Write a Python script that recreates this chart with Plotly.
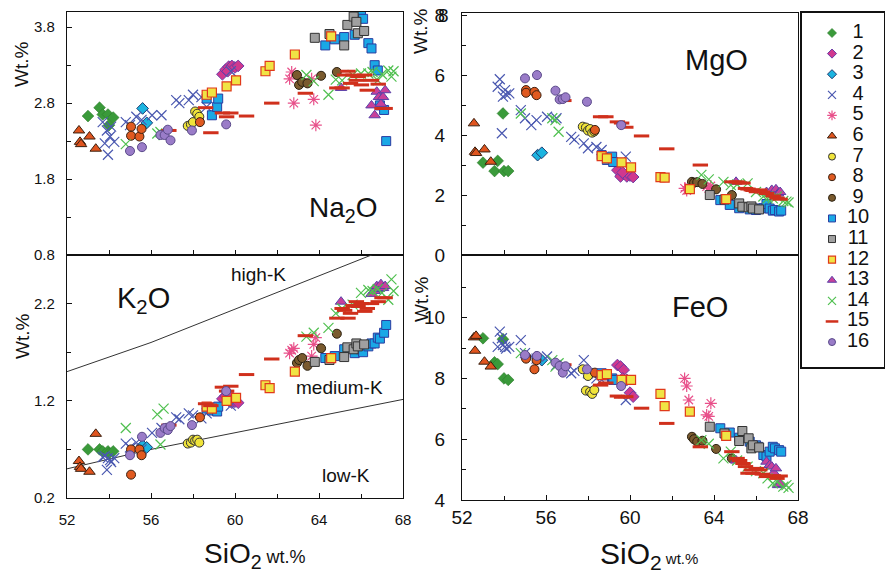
import plotly.graph_objects as go

# ---------------- data ----------------
S01_SIO2 = [53.0, 53.55, 53.7, 53.95, 54.0, 54.2]
S01_NA2O = [2.63, 2.74, 2.65, 2.65, 2.51, 2.61]
S01_K2O = [0.70, 0.70, 0.68, 0.68, 0.66, 0.68]
S01_MGO = [3.08, 2.80, 3.14, 4.72, 2.80, 2.80]
S01_FEO = [9.32, 8.53, 8.47, 9.29, 8.00, 7.95]

S02_SIO2 = [59.4, 59.55, 59.7, 59.85, 60.0, 60.15, 59.65]
S02_NA2O = [3.18, 3.24, 3.28, 3.29, 3.27, 3.29, 3.22]
S02_K2O = [1.22, 1.25, 1.20, 1.18, 1.19, 1.18, 1.28]
S02_MGO = [2.83, 2.62, 2.70, 2.62, 2.65, 2.60, 2.75]
S02_FEO = [8.44, 8.39, 8.28, 7.95, 7.53, 7.40, 8.00]

S03_SIO2 = [55.6, 55.8]
S03_NA2O = [2.73, 2.54]
S03_K2O = [0.74, 0.72]
S03_MGO = [3.33, 3.41]
S03_FEO = [8.66, 8.60]

S04_SIO2 = [53.7, 53.8, 53.9, 53.95, 54.05, 54.1, 54.25, 54.8, 55.0, 55.3, 55.55,
            56.05, 56.5, 57.2, 57.35, 57.8, 58.0, 58.4, 58.65, 59.8]
S04_NA2O = [2.55, 2.27, 2.44, 2.12, 2.36, 2.49, 2.29, 2.55, 2.51, 2.62, 2.58,
            2.64, 2.64, 2.84, 2.80, 2.84, 2.91, 2.88, 2.75, 3.22]
S04_K2O = [0.62, 0.63, 0.49, 0.61, 0.59, 0.57, 0.61, 0.76, 0.72, 0.77, 0.70,
           0.87, 0.92, 1.03, 1.01, 1.07, 1.05, 1.02, 1.07, 1.15]
S04_MGO = [5.61, 5.86, 4.06, 5.28, 5.50, 5.35, 5.39, 4.83, 4.56, 4.33, 4.50,
           4.61, 4.56, 3.94, 3.85, 3.72, 3.56, 3.60, 3.50, 3.28]
S04_FEO = [9.04, 9.54, 9.32, 9.10, 9.04, 8.98, 9.04, 9.26, 8.83, 8.72, 8.65,
           8.72, 8.44, 8.17, 8.25, 8.60, 8.17, 8.00, 7.95, 7.29]

S05_SIO2 = [62.6, 62.7, 62.8, 63.65, 63.75, 63.85]
S05_NA2O = [3.12, 3.21, 2.80, 3.12, 2.85, 2.51]
S05_K2O = [1.69, 1.72, 1.74, 1.66, 1.78, 1.85]
S05_MGO = [2.22, 2.15, 2.28, 2.28, 2.22, 2.30]
S05_FEO = [8.00, 7.75, 7.29, 6.80, 6.75, 7.18]

S06_SIO2 = [52.57, 52.62, 52.67, 53.07, 53.37]
S06_NA2O = [2.44, 2.29, 2.26, 2.36, 2.20]
S06_K2O = [0.58, 0.52, 0.50, 0.47, 0.86]
S06_MGO = [4.39, 3.44, 3.40, 3.52, 3.11]
S06_FEO = [9.35, 8.91, 9.40, 8.55, 8.39]

S07_SIO2 = [57.75, 57.9, 58.0, 58.1, 58.2, 58.3]
S07_NA2O = [2.50, 2.52, 2.55, 2.69, 2.66, 2.62]
S07_K2O = [0.76, 0.77, 0.80, 0.79, 0.80, 0.77]
S07_MGO = [4.28, 4.25, 4.15, 4.20, 4.08, 4.12]
S07_FEO = [8.30, 7.60, 8.08, 7.56, 7.49, 7.62]

S08_SIO2 = [55.05, 55.05, 55.45, 55.55, 58.33]
S08_NA2O = [2.49, 2.37, 2.36, 2.46, 2.55]
S08_K2O = [0.70, 0.44, 0.70, 0.64, 1.03]
S08_MGO = [5.50, 5.41, 5.44, 5.33, 4.17]
S08_FEO = [8.72, 8.65, 8.30, 8.60, 8.19]

S09_SIO2 = [62.95, 63.05, 63.2, 63.45, 64.1, 64.85]
S09_NA2O = [3.17, 3.04, 3.08, 3.06, 3.16, 3.21]
S09_K2O = [1.59, 1.62, 1.64, 1.56, 1.74, 1.89]
S09_MGO = [2.44, 2.41, 2.43, 2.37, 2.19, 2.00]
S09_FEO = [6.08, 6.00, 5.92, 5.95, 5.68, 5.37]

S10_SIO2 = [58.65, 58.9, 59.15, 59.2, 64.3, 64.75, 65.2, 65.7, 66.0, 66.1,
            66.35, 66.5, 66.65, 66.8, 66.9, 67.1, 67.2]
S10_NA2O = [2.86, 2.64, 2.75, 2.86, 3.56, 3.64, 3.67, 3.70, 3.96, 3.91,
            3.59, 3.52, 3.30, 3.23, 2.77, 2.71, 2.30]
S10_K2O = [1.12, 1.10, 1.09, 1.14, 1.64, 1.66, 1.73, 1.69, 1.73, 1.70,
           1.76, 1.79, 1.79, 1.85, 1.84, 1.90, 1.98]
S10_MGO = [3.33, 3.17, 3.28, 3.10, 1.83, 1.67, 1.56, 1.52, 1.50, 1.55,
           1.56, 1.70, 1.55, 1.48, 1.50, 1.45, 1.48]
S10_FEO = [8.17, 8.10, 8.00, 7.95, 6.36, 6.22, 6.05, 5.92, 5.80, 5.75,
           5.48, 5.43, 5.59, 5.75, 5.70, 5.64, 5.59]

S11_SIO2 = [63.8, 64.5, 65.2, 65.35, 65.65, 65.78, 65.85, 66.15]
S11_NA2O = [3.66, 3.71, 3.56, 3.83, 3.94, 3.87, 3.72, 3.75]
S11_K2O = [1.60, 1.62, 1.65, 1.75, 1.73, 1.79, 1.76, 1.78]
S11_MGO = [2.00, 1.85, 1.72, 1.61, 1.59, 1.62, 1.55, 1.52]
S11_FEO = [6.41, 6.19, 5.94, 6.27, 6.03, 5.70, 5.80, 5.73]

S12_SIO2 = [58.65, 58.9, 59.6, 60.05, 61.45, 61.65, 62.85, 64.58]
S12_NA2O = [2.91, 2.94, 3.02, 3.10, 3.22, 3.29, 3.44, 3.68]
S12_K2O = [1.14, 1.12, 1.20, 1.23, 1.36, 1.33, 1.50, 1.64]
S12_MGO = [3.30, 3.22, 3.09, 2.92, 2.60, 2.58, 2.20, 1.86]
S12_FEO = [8.11, 8.14, 7.95, 7.95, 7.49, 7.09, 6.91, 6.11]

S13_SIO2 = [65.05, 66.5, 66.65, 66.75, 66.85, 66.95, 67.05, 67.15]
S13_NA2O = [3.00, 2.77, 2.64, 2.95, 2.88, 2.79, 2.88, 2.97]
S13_K2O = [2.22, 2.30, 2.33, 2.38, 2.35, 2.40, 2.36, 2.38]
S13_MGO = [2.44, 2.10, 2.05, 2.17, 2.00, 2.19, 2.05, 2.10]
S13_FEO = [5.30, 5.26, 5.15, 5.10, 4.90, 5.04, 4.49, 4.53]

S14_SIO2 = [54.8, 56.3, 56.45, 56.6, 63.4, 63.75, 64.45, 64.8, 65.1, 65.6,
            66.0, 66.35, 66.55, 66.8, 67.0, 67.3, 67.45, 67.55]
S14_NA2O = [2.26, 2.40, 2.42, 2.38, 3.17, 3.09, 2.91, 3.11, 3.10, 3.17,
            3.19, 3.19, 3.21, 3.10, 3.18, 3.23, 3.15, 3.22]
S14_K2O = [0.92, 1.06, 0.75, 1.12, 1.86, 1.90, 1.95, 2.10, 2.15, 2.19,
           2.31, 2.34, 2.33, 2.35, 2.31, 2.24, 2.45, 2.33]
S14_MGO = [4.72, 4.56, 4.50, 4.11, 2.67, 2.52, 2.44, 2.33, 2.35, 2.39,
           2.10, 1.95, 1.89, 1.89, 1.95, 1.80, 1.78, 1.75]
S14_FEO = [8.83, 8.60, 8.39, 8.50, 5.97, 5.85, 5.37, 5.59, 5.30, 5.10,
           4.95, 4.88, 4.71, 4.55, 4.60, 4.44, 4.49, 4.40]

S15_SIO2 = [56.85, 58.6, 58.85, 59.4, 59.6, 59.8, 60.55, 61.75, 63.35, 64.85,
            65.1, 65.22, 65.38, 65.5, 65.62, 65.78, 65.86, 66.02, 66.18, 66.3,
            66.5, 66.82, 67.0, 67.15]
S15_NA2O = [2.44, 2.74, 2.41, 2.67, 2.62, 2.67, 2.63, 2.80, 2.93, 3.00,
            3.00, 3.17, 3.22, 3.06, 3.17, 3.10, 3.15, 3.04, 3.17, 2.97,
            3.10, 3.05, 2.73, 2.73]
S15_K2O = [0.95, 1.17, 1.15, 1.34, 1.30, 1.35, 1.47, 1.63, 1.87, 2.05,
           2.15, 2.13, 2.05, 2.10, 2.18, 2.22, 2.17, 2.20, 2.12, 2.15,
           2.20, 2.22, 2.26, 2.26]
S15_MGO = [5.15, 4.61, 4.61, 4.44, 4.40, 4.26, 3.97, 3.54, 3.00, 2.44,
           2.44, 2.40, 2.40, 2.22, 2.20, 2.17, 2.15, 2.11, 2.17, 2.10,
           2.05, 1.97, 1.90, 1.86]
S15_FEO = [8.45, 7.78, 7.85, 7.42, 7.38, 7.40, 7.02, 6.52, 5.75, 5.59,
           5.37, 5.30, 5.20, 5.10, 4.88, 4.99, 4.88, 5.04, 4.99, 4.85,
           4.77, 4.80, 4.71, 4.79]

S16_SIO2 = [55.0, 55.57, 56.45, 56.65, 56.8, 56.93, 57.95, 59.58]
S16_NA2O = [2.17, 2.22, 2.38, 2.38, 2.45, 2.31, 2.44, 2.52]
S16_K2O = [0.64, 0.83, 0.87, 0.92, 0.90, 0.94, 0.95, 1.30]
S16_MGO = [5.89, 6.00, 5.48, 5.19, 5.20, 5.26, 5.11, 4.33]
S16_FEO = [8.77, 8.74, 8.52, 8.41, 8.19, 8.40, 8.30, 7.75]

# K2O classification boundaries
HIGHK_SIO2 = [48, 52, 56, 63, 70]
HIGHK_K2O = [1.2, 1.5, 1.8, 2.4, 3.0]
LOWK_SIO2 = [48, 52, 56, 63, 70]
LOWK_K2O = [0.3, 0.5, 0.7, 1.0, 1.3]

SERIES_NAMES = [str(i) for i in range(1, 17)]
SIO2 = [S01_SIO2, S02_SIO2, S03_SIO2, S04_SIO2, S05_SIO2, S06_SIO2, S07_SIO2, S08_SIO2,
        S09_SIO2, S10_SIO2, S11_SIO2, S12_SIO2, S13_SIO2, S14_SIO2, S15_SIO2, S16_SIO2]
NA2O = [S01_NA2O, S02_NA2O, S03_NA2O, S04_NA2O, S05_NA2O, S06_NA2O, S07_NA2O, S08_NA2O,
        S09_NA2O, S10_NA2O, S11_NA2O, S12_NA2O, S13_NA2O, S14_NA2O, S15_NA2O, S16_NA2O]
K2O = [S01_K2O, S02_K2O, S03_K2O, S04_K2O, S05_K2O, S06_K2O, S07_K2O, S08_K2O,
       S09_K2O, S10_K2O, S11_K2O, S12_K2O, S13_K2O, S14_K2O, S15_K2O, S16_K2O]
MGO = [S01_MGO, S02_MGO, S03_MGO, S04_MGO, S05_MGO, S06_MGO, S07_MGO, S08_MGO,
       S09_MGO, S10_MGO, S11_MGO, S12_MGO, S13_MGO, S14_MGO, S15_MGO, S16_MGO]
FEO = [S01_FEO, S02_FEO, S03_FEO, S04_FEO, S05_FEO, S06_FEO, S07_FEO, S08_FEO,
       S09_FEO, S10_FEO, S11_FEO, S12_FEO, S13_FEO, S14_FEO, S15_FEO, S16_FEO]

# ---------------- styles ----------------
STYLES = [
    dict(symbol="diamond", color="#3a9a3a", line=dict(color="#2a7a2a", width=0.6), size=9),
    dict(symbol="diamond", color="#d0388e", line=dict(color="#6a3ca8", width=1), size=9),
    dict(symbol="diamond", color="#1cb4e0", line=dict(color="#1a3a70", width=1), size=9),
    dict(symbol="x-thin-open", color="#4a58b0", line=dict(color="#4a58b0", width=1.2), size=10),
    dict(symbol="asterisk-open", color="#e8508a", line=dict(color="#e8508a", width=1.2), size=10),
    dict(symbol="triangle-up", color="#e0541e", line=dict(color="#3a2010", width=1), size=10),
    dict(symbol="circle", color="#f0e43a", line=dict(color="#333333", width=1), size=9),
    dict(symbol="circle", color="#e05a20", line=dict(color="#3a2010", width=1), size=9),
    dict(symbol="circle", color="#7a5a2e", line=dict(color="#2a2010", width=1), size=9),
    dict(symbol="square", color="#1aa8e6", line=dict(color="#2a3ca0", width=1), size=9),
    dict(symbol="square", color="#a0a0a0", line=dict(color="#333333", width=1), size=9),
    dict(symbol="square", color="#f0e444", line=dict(color="#e03a1a", width=1.2), size=9),
    dict(symbol="triangle-up", color="#c8409a", line=dict(color="#5a40a8", width=1), size=10),
    dict(symbol="x-thin-open", color="#50c050", line=dict(color="#50c050", width=1.2), size=10),
    dict(symbol="line-ew-open", color="#d0301c", line=dict(color="#d0301c", width=3), size=11),
    dict(symbol="circle", color="#9a7cc8", line=dict(color="#5a4a8a", width=1), size=9),
]

W, H = 885, 577
def fx(px):
    return px / W
def fy(py):
    return 1 - py / H

fig = go.Figure()

# boundary lines on K2O panel
fig.add_trace(go.Scatter(x=HIGHK_SIO2, y=HIGHK_K2O, mode="lines", xaxis="x2", yaxis="y2",
                         line=dict(color="#333333", width=1), showlegend=False, hoverinfo="skip"))
fig.add_trace(go.Scatter(x=LOWK_SIO2, y=LOWK_K2O, mode="lines", xaxis="x2", yaxis="y2",
                         line=dict(color="#333333", width=1), showlegend=False, hoverinfo="skip"))

panels = [(NA2O, "x", "y"), (K2O, "x2", "y2"), (MGO, "x3", "y3"), (FEO, "x4", "y4")]
for vals, xa, ya in panels:
    for i in range(16):
        st = STYLES[i]
        fig.add_trace(go.Scatter(
            x=SIO2[i], y=vals[i], mode="markers", xaxis=xa, yaxis=ya,
            name=SERIES_NAMES[i], showlegend=False, cliponaxis=True,
            marker=dict(symbol=st["symbol"], color=st["color"], size=st["size"], line=st["line"])))

# legend drawn in its own small axis
LEG_ROWS = list(range(1, 17))
for i in range(16):
    st = STYLES[i]
    fig.add_trace(go.Scatter(
        x=[0.366], y=[LEG_ROWS[i]], mode="markers", xaxis="x5", yaxis="y5", showlegend=False,
        marker=dict(symbol=st["symbol"], color=st["color"], size=st["size"] - 2,
                    line=dict(color=st["line"]["color"], width=min(st["line"]["width"], 2.5)))))
fig.add_trace(go.Scatter(
    x=[0.683] * 16, y=LEG_ROWS, mode="text", text=SERIES_NAMES, xaxis="x5", yaxis="y5",
    textposition="middle center", showlegend=False,
    textfont=dict(family="Arial", size=20, color="#111111")))

FONT = "Arial"
frame = dict(showline=True, linecolor="#111111", linewidth=1.3, mirror=True, automargin=False,
             showgrid=False, zeroline=False, ticks="inside", ticklen=5, tickcolor="#111111",
             ticklabeloverflow="allow")

xl = [fx(67), fx(403)]
xr = [fx(462), fx(798)]

layout = dict(
    width=W, height=H, autosize=False,
    margin=dict(l=0, r=0, t=0, b=0, pad=0, autoexpand=False),
    paper_bgcolor="white", plot_bgcolor="white", showlegend=False,
    xaxis=dict(domain=xl, range=[52, 68], anchor="y", showticklabels=False,
               tickvals=[52, 54, 56, 58, 60, 62, 64, 66, 68], **frame),
    yaxis=dict(domain=[fy(255), fy(12)], range=[0.8, 4.0], anchor="x",
               tickvals=[0.8, 1.8, 2.8, 3.8], ticklabelstandoff=8,
               minor=dict(tickvals=[1.3, 2.3, 3.3], ticks="inside", ticklen=4, tickcolor="#111111"),
               tickfont=dict(family=FONT, size=15, color="#111111"), **frame),
    xaxis2=dict(domain=xl, range=[52, 68], anchor="y2", tickvals=[52, 56, 60, 64, 68],
                ticklabelstandoff=8,
                minor=dict(tickvals=[54, 58, 62, 66], ticks="inside", ticklen=4, tickcolor="#111111"),
                tickfont=dict(family=FONT, size=15, color="#111111"), **frame),
    yaxis2=dict(domain=[fy(498), fy(255)], range=[0.2, 2.7], anchor="x2",
                tickvals=[0.2, 1.2, 2.2], ticklabelstandoff=8,
                minor=dict(tickvals=[0.7, 1.7], ticks="inside", ticklen=4, tickcolor="#111111"),
                tickfont=dict(family=FONT, size=15, color="#111111"), **frame),
    xaxis3=dict(domain=xr, range=[52, 68], anchor="y3", showticklabels=False,
                tickvals=[52, 54, 56, 58, 60, 62, 64, 66, 68], **frame),
    yaxis3=dict(domain=[fy(255), fy(13)], range=[0, 8.07], anchor="x3",
                tickvals=[0, 2, 4, 6, 8], ticklabelstandoff=12,
                minor=dict(tickvals=[1, 3, 5, 7], ticks="inside", ticklen=4, tickcolor="#111111"),
                tickfont=dict(family=FONT, size=19, color="#111111"), **frame),
    xaxis4=dict(domain=xr, range=[52, 68], anchor="y4", tickvals=[52, 56, 60, 64, 68],
                ticklabelstandoff=0,
                minor=dict(tickvals=[54, 58, 62, 66], ticks="inside", ticklen=4, tickcolor="#111111"),
                tickfont=dict(family=FONT, size=19, color="#111111"), **frame),
    yaxis4=dict(domain=[fy(500), fy(255)], range=[4, 12.06], anchor="x4",
                tickvals=[4, 6, 8, 10], ticklabelstandoff=12,
                minor=dict(tickvals=[5, 7, 9, 11], ticks="inside", ticklen=4, tickcolor="#111111"),
                tickfont=dict(family=FONT, size=19, color="#111111"), **frame),
    xaxis5=dict(domain=[fx(802), fx(884)], range=[0, 1], anchor="y5", showticklabels=False,
                showline=True, linecolor="#111111", linewidth=1.5, mirror=True, automargin=False,
                showgrid=False, zeroline=False, ticks=""),
    yaxis5=dict(domain=[fy(367), fy(13)], range=[17.21, 0.03], anchor="x5", showticklabels=False,
                showline=True, linecolor="#111111", linewidth=1.5, mirror=True, automargin=False,
                showgrid=False, zeroline=False, ticks=""),
)
fig.update_layout(**layout)

def ann(text, px, py, size, angle=0, xanchor="center"):
    fig.add_annotation(text=text, x=fx(px), y=fy(py), xref="paper", yref="paper",
                       xanchor=xanchor, yanchor="middle", showarrow=False, textangle=angle,
                       font=dict(family=FONT, size=size, color="#111111"))

ann("Na<sub>2</sub>O", 343, 209, 28)
ann("K<sub>2</sub>O", 143, 300, 29)
ann("MgO", 716, 60, 29)
ann("FeO", 700, 307, 29)
ann("high-K", 258, 274, 19)
ann("medium-K", 339, 387, 19)
ann("low-K", 346, 475, 19)
ann("Wt.%", 22, 65, 19, -90)
ann("Wt.%", 22, 337, 19, -90)
ann("Wt.%", 421, 32, 19, -90)
ann("Wt.%", 421, 300, 19, -90)
ann("SiO<sub>2</sub><span style='font-size:18px'> wt.%</span>", 255, 555, 28)
ann("SiO<sub>2</sub><span style='font-size:15px'> wt.%</span>", 649, 555, 30)
# top tick label of the MgO axis, which plotly drops at the very edge of the panel
ann("8", 451, 16, 19, xanchor="right")

fig.write_html("out.html", config={"responsive": False})
